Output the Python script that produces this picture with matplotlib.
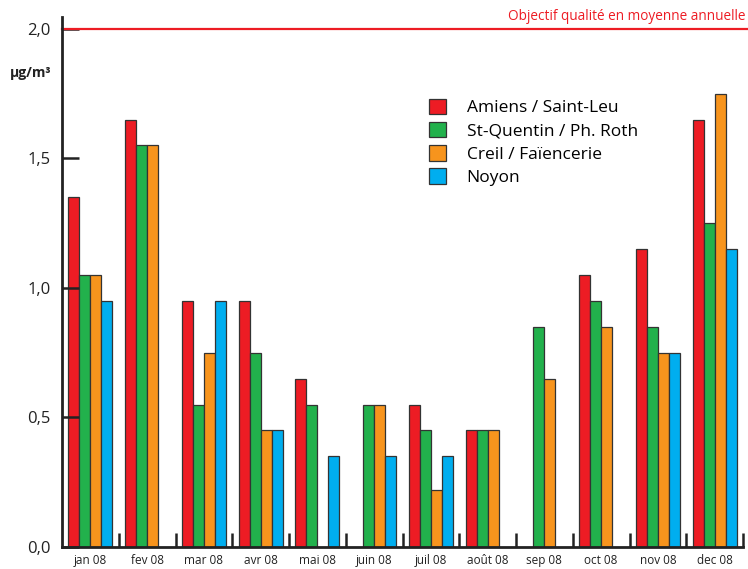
import numpy as np
import matplotlib
matplotlib.use("Agg")
import matplotlib.pyplot as plt

# Data (µg/m3), NaN = no measurement
months = ["jan 08", "fev 08", "mar 08", "avr 08", "mai 08", "juin 08",
          "juil 08", "août 08", "sep 08", "oct 08", "nov 08", "dec 08"]
nan = np.nan
amiens   = [1.35, 1.65, 0.95, 0.95, 0.65, nan, 0.55, 0.45, nan, 1.05, 1.15, 1.65]
stquentin = [1.05, 1.55, 0.55, 0.75, 0.55, 0.55, 0.45, 0.45, 0.85, 0.95, 0.85, 1.25]
creil    = [1.05, 1.55, 0.75, 0.45, nan, 0.55, 0.22, 0.45, 0.65, 0.85, 0.75, 1.75]
noyon    = [0.95, nan, 0.95, 0.45, 0.35, 0.35, 0.35, nan, nan, nan, 0.75, 1.15]
series = [("Amiens / Saint-Leu", amiens, "#ED1C24"),
          ("St-Quentin / Ph. Roth", stquentin, "#22B14C"),
          ("Creil / Faïencerie", creil, "#F7941D"),
          ("Noyon", noyon, "#00AEEF")]
objectif = 2.0

plt.rcParams['font.family'] = ['Open Sans', 'DejaVu Sans']

fig = plt.figure(figsize=(7.48, 5.69), dpi=100, facecolor="white")
ax = fig.add_axes([62/748, 22/569, (743-62)/748, (547-17)/569])

x = np.arange(len(months)) + 0.5
w = 0.194
for k, (name, vals, col) in enumerate(series):
    ax.bar(x + (k - 1.5) * w, vals, width=w, color=col,
           edgecolor="#333333", linewidth=0.9, label=name)

ax.axhline(objectif, color="#ED1C24", linewidth=1.6, xmin=0, xmax=1.1, clip_on=False)
ax.text(12.05, objectif + 0.02, "Objectif qualité en moyenne annuelle",
        color="#ED1C24", fontsize=9.8, ha="right", va="bottom")

ax.set_xlim(0, 12)
ax.set_ylim(0, 2.046)
ax.set_yticks([0, 0.5, 1.0, 1.5, 2.0])
ax.set_yticklabels(["0,0", "0,5", "1,0", "1,5", "2,0"], fontsize=12, color="#222222")
ax.tick_params(axis="y", direction="in", length=12, width=1.8, color="#222222", pad=8)

ax.set_xticks(x)
ax.set_xticklabels(months, fontsize=8.5, color="#222222")
ax.tick_params(axis="x", which="major", length=0, pad=5)
ax.set_xticks(np.arange(1, 13), minor=True)
ax.tick_params(axis="x", which="minor", direction="in", length=10, width=1.8, color="#222222")

for s in ["top", "right"]:
    ax.spines[s].set_visible(False)
for s in ["left", "bottom"]:
    ax.spines[s].set_linewidth(2)
    ax.spines[s].set_color("#222222")

fig.text(10/748, 1 - 73/569, "µg/m³", fontsize=10, fontweight="bold",
         va="center", ha="left", color="#222222")

leg = ax.legend(loc="upper left", bbox_to_anchor=(0.528, 0.859), frameon=False,
                fontsize=12.5, handlelength=1.0, handleheight=1.0, labelspacing=0.32,
                handletextpad=1.2, borderaxespad=0)

fig.savefig("out.png", dpi=100)
